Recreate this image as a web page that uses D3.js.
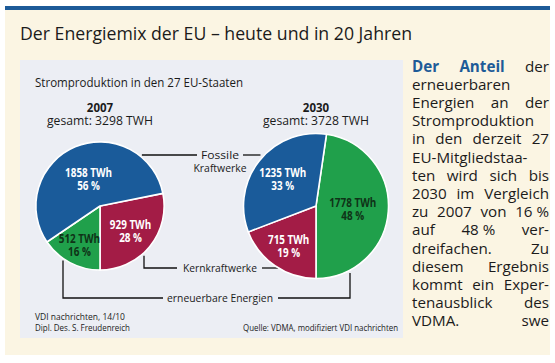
<!DOCTYPE html>
<html><head><meta charset="utf-8">
<script src="https://cdn.jsdelivr.net/npm/d3@7"></script>
<style>body{margin:0;background:#fff}svg{display:block}</style>
</head><body>
<svg id="c" width="555" height="363"></svg>
<script>
// ---------- data ----------
const years = ["2007", "2030"];
const totals = [3298, 3728];
const sources = ["Fossile Kraftwerke", "Kernkraftwerke", "erneuerbare Energien"];
const twh2007 = [1858, 929, 512];
const twh2030 = [1235, 715, 1778];
const pct2007 = [56, 28, 16];
const pct2030 = [33, 19, 48];
const sliceOrder2007 = [1, 2, 0];
const sliceOrder2030 = [2, 1, 0];
const title = "Der Energiemix der EU – heute und in 20 Jahren";
const subtitle = "Stromproduktion in den 27 EU-Staaten";
const totalPrefix = "gesamt: ";
const totalUnit = " TWH";
const sliceUnit = " TWh";
const creditLines = ["VDI nachrichten, 14/10", "Dipl. Des. S. Freudenreich"];
const sourceNote = "Quelle: VDMA, modifiziert VDI nachrichten";
const sideLines = [
  "Der Anteil der",
  "erneuerbaren",
  "Energien an der",
  "Stromproduktion",
  "in den derzeit 27",
  "EU-Mitgliedstaa-",
  "ten wird sich bis",
  "2030 im Vergleich",
  "zu 2007 von 16\u00a0%",
  "auf 48\u00a0% ver-",
  "dreifachen. Zu",
  "diesem Ergebnis",
  "kommt ein Exper-",
  "tenausblick des",
  "VDMA. swe"
];

// ---------- styles ----------
const FONT = "'Open Sans', 'Noto Sans', sans-serif";
const colors = ["#1a5b9a", "#a31c46", "#20a04b"];
const labelColors = ["#ffffff", "#ffffff", "#0f3317"];
const ink = "#1b1b1b";
const blue = "#1d5b98";

const svg = d3.select("#c").style("font-family", FONT);

svg.append("rect").attr("width", 555).attr("height", 363).attr("fill", "#fff");
svg.append("rect").attr("x", 5).attr("y", 10).attr("width", 545).attr("height", 345).attr("fill", "#fbf5e3");
svg.append("rect").attr("x", 5).attr("y", 6).attr("width", 545).attr("height", 4).attr("fill", blue);
svg.append("rect").attr("x", 20).attr("y", 60).attr("width", 383).attr("height", 278).attr("fill", "#eceef4");

function fitW(sel, w) {
  sel.attr("textLength", w).attr("lengthAdjust", "spacingAndGlyphs");
  return sel;
}
function condense(sel, k) {
  const w = sel.node().getComputedTextLength();
  return fitW(sel, w * k);
}

fitW(svg.append("text").attr("x", 20).attr("y", 40).attr("font-size", 18.5)
  .attr("fill", ink).text(title), 392);

fitW(svg.append("text").attr("x", 35).attr("y", 87).attr("font-size", 12)
  .attr("fill", ink).text(subtitle), 208);

// ---------- pies ----------
const rScale = d3.scaleLinear().domain([0, d3.max(totals)]).range([0, 72.5]);
const cx = d3.scalePoint().domain(years).range([100, 316]);
const cy = 206;

const pies = [
  { year: years[0], total: totals[0], twh: twh2007, pct: pct2007, order: sliceOrder2007 },
  { year: years[1], total: totals[1], twh: twh2030, pct: pct2030, order: sliceOrder2030 }
];

const layerLines = svg.append("g");
const layerPies = svg.append("g");

pies.forEach(p => {
  const x0 = cx(p.year);
  const R = rScale(p.total);
  p.R = R; p.cx = x0;
  const data = p.order.map(k => ({ k, v: p.twh[k], pct: p.pct[k] }));
  const sum = d3.sum(data, d => d.v);
  const start = Math.PI - 2 * Math.PI * data[0].v / sum;
  const arcs = d3.pie().sort(null).value(d => d.v)
    .startAngle(start).endAngle(start + 2 * Math.PI)(data);
  const arc = d3.arc().innerRadius(0).outerRadius(R);
  const g = layerPies.append("g").attr("transform", `translate(${x0},${cy})`);
  g.selectAll("path").data(arcs).join("path")
    .attr("d", arc).attr("fill", d => colors[d.data.k])
    .attr("stroke", "#fff").attr("stroke-width", 1.6).attr("stroke-linejoin", "round");

  arcs.forEach(a => {
    const share = a.data.v / sum;
    const lr = R * (0.77 - 0.55 * share);
    const [lx, ly] = d3.arc().innerRadius(lr).outerRadius(lr).centroid(a);
    const t1 = g.append("text").attr("x", lx).attr("y", ly - 2)
      .attr("text-anchor", "middle").attr("font-size", 11.5).attr("font-weight", 700)
      .attr("fill", labelColors[a.data.k]).text(a.data.v + sliceUnit);
    condense(t1, 0.86);
    const t2 = g.append("text").attr("x", lx).attr("y", ly + 11)
      .attr("text-anchor", "middle").attr("font-size", 11.5).attr("font-weight", 700)
      .attr("fill", labelColors[a.data.k]).text(a.data.pct + "\u00a0%");
    condense(t2, 0.86);
  });

  const yt = svg.append("text").attr("x", x0).attr("y", 111.5).attr("text-anchor", "middle")
    .attr("font-size", 12.5).attr("font-weight", 700).attr("fill", ink).text(p.year);
  condense(yt, 0.92);
  fitW(svg.append("text").attr("x", x0).attr("y", 124.5).attr("text-anchor", "middle")
    .attr("font-size", 12.5).attr("fill", ink)
    .text(totalPrefix + d3.format("d")(p.total) + totalUnit), 106);
});

// ---------- connectors ----------
const L = pies[0], Rp = pies[1];
const edgeX = (p, y, side) => p.cx + side * Math.sqrt(p.R * p.R - (y - cy) * (y - cy));
const edgeY = (p, x) => cy + Math.sqrt(p.R * p.R - (x - p.cx) * (x - p.cx));
const lineStyle = s => s.attr("fill", "none").attr("stroke", "#111").attr("stroke-width", 1.3);
const labelX = 220;

function connLabel(lines, y0, widths) {
  const nodes = lines.map((s, i) => fitW(svg.append("text").attr("x", labelX).attr("y", y0 + i * 13)
    .attr("text-anchor", "middle").attr("font-size", 11.5).attr("fill", ink).text(s), widths[i]));
  return nodes[0].node().getBBox();
}

// Fossile Kraftwerke
{
  const y = 155;
  const words = sources[0].split(" ");
  const b = connLabel(words, 159, [38, 53]);
  lineStyle(layerLines.append("path")).attr("d", `M${edgeX(L, y, 1) + 3},${y}H${b.x - 4}`);
  lineStyle(layerLines.append("path")).attr("d", `M${b.x + b.width + 4},${y}H${edgeX(Rp, y, -1) - 4}`);
}
// Kernkraftwerke
{
  const y = 268, vx = 144;
  const b = connLabel([sources[1]], 272, [74]);
  lineStyle(layerLines.append("path")).attr("d", `M${vx},${edgeY(L, vx) + 3}V${y}H${b.x - 6}`);
  lineStyle(layerLines.append("path")).attr("d", `M${b.x + b.width + 5},${y}H${edgeX(Rp, y, -1)}`);
}
// erneuerbare Energien
{
  const y = 298, vx1 = 63, vx2 = 350;
  const b = connLabel([sources[2]], 302, [106]);
  lineStyle(layerLines.append("path")).attr("d", `M${vx1},${edgeY(L, vx1) + 2}V${y}H${b.x - 4}`);
  lineStyle(layerLines.append("path")).attr("d", `M${b.x + b.width + 5},${y}H${vx2}V${edgeY(Rp, vx2) + 3}`);
}

// ---------- footer ----------
fitW(svg.append("text").attr("x", 35).attr("y", 320).attr("font-size", 9.5).attr("fill", ink).text(creditLines[0]), 90);
fitW(svg.append("text").attr("x", 35).attr("y", 331).attr("font-size", 9.5).attr("fill", ink).text(creditLines[1]), 95);
fitW(svg.append("text").attr("x", 243).attr("y", 331).attr("font-size", 9.5).attr("fill", ink).text(sourceNote), 155);

// ---------- side text (justified) ----------
const sideX0 = 412, sideX1 = 549, sideY0 = 71.5, sideLH = 18.2;
sideLines.forEach((line, li) => {
  const words = line.split(" ");
  const y = sideY0 + li * sideLH;
  const nodes = words.map((w, wi) => {
    const hl = li === 0 && wi < 2;
    return svg.append("text").attr("y", y).attr("font-size", 15.2)
      .attr("font-weight", hl ? 700 : 400).attr("fill", hl ? blue : ink).text(w);
  });
  const widths = nodes.map(n => n.node().getComputedTextLength());
  if (nodes.length === 1) { nodes[0].attr("x", sideX0); return; }
  const gap = (sideX1 - sideX0 - d3.sum(widths)) / (nodes.length - 1);
  let x = sideX0;
  nodes.forEach((n, i) => { n.attr("x", x); x += widths[i] + gap; });
});
</script>
</body></html>
